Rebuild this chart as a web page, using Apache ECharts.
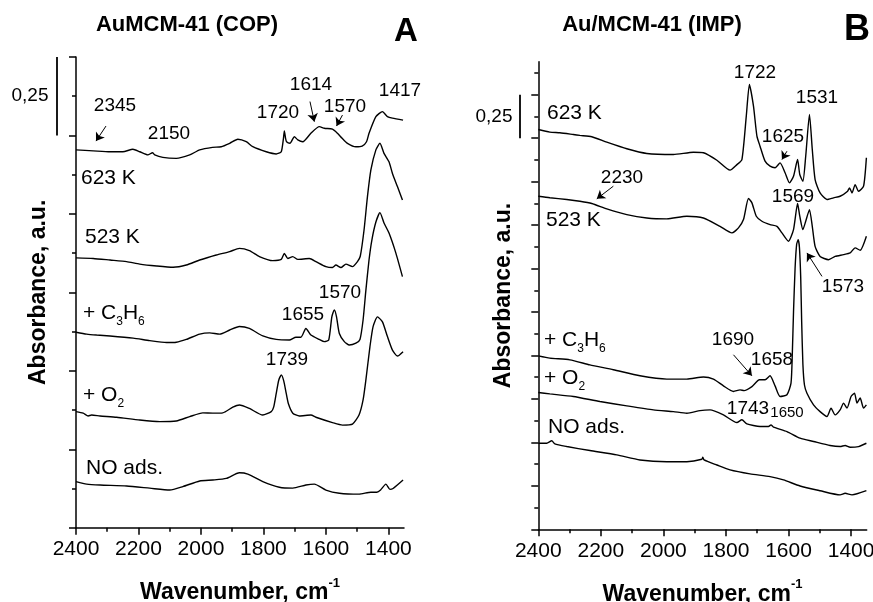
<!DOCTYPE html>
<html><head><meta charset="utf-8">
<script src="https://cdn.jsdelivr.net/npm/echarts@6/dist/echarts.min.js"></script>
<style>html,body{margin:0;padding:0;background:#fff}#c{width:873px;height:602px}</style>
</head><body><div id="c"></div>
<script>
const FONT = "'Liberation Sans', Arial, Helvetica, sans-serif";

// tick values
const xTicksMajor = [1400, 1600, 1800, 2000, 2200, 2400];
const xTicksMinor = [1500, 1700, 1900, 2100, 2300];
const yTicksMajorA = [0, 0.25, 0.5, 0.75, 1, 1.25, 1.5];
const yTicksMinorA = [0.125, 0.375, 0.625, 0.875, 1.125, 1.375];
const yTicksMajorB = [0, 0.25, 0.5, 0.75, 1, 1.25, 1.5, 1.75, 2, 2.25, 2.5];
const yTicksMinorB = [0.125, 0.375, 0.625, 0.875, 1.125, 1.375, 1.625, 1.875, 2.125, 2.375, 2.625];

// Panel A: AuMCM-41 (COP)  [wavenumber, absorbance]
const copS623 = [[2400,1.204],[2345,1.201],[2291,1.198],[2250,1.198],[2218,1.206],[2196,1.198],[2170,1.188],[2155,1.195],[2148,1.188],[2122,1.180],[2079,1.177],[2036,1.188],[2004,1.204],[1963,1.212],[1935,1.214],[1908,1.225],[1882,1.238],[1855,1.230],[1834,1.214],[1791,1.198],[1759,1.191],[1743,1.198],[1736,1.240],[1733,1.264],[1729,1.240],[1726,1.230],[1715,1.225],[1701,1.246],[1690,1.236],[1674,1.230],[1648,1.257],[1621,1.278],[1605,1.273],[1579,1.270],[1563,1.257],[1548,1.241],[1531,1.225],[1504,1.214],[1484,1.216],[1470,1.230],[1462,1.257],[1440,1.310],[1419,1.326],[1403,1.310],[1387,1.305],[1353,1.299]];
const copS523 = [[2400,0.860],[2345,0.858],[2291,0.853],[2238,0.848],[2196,0.840],[2142,0.834],[2089,0.830],[2047,0.837],[2004,0.853],[1951,0.869],[1908,0.880],[1877,0.890],[1845,0.883],[1813,0.864],[1770,0.851],[1743,0.855],[1733,0.874],[1722,0.858],[1706,0.864],[1690,0.855],[1653,0.858],[1632,0.848],[1600,0.832],[1579,0.829],[1568,0.837],[1552,0.829],[1536,0.840],[1515,0.832],[1499,0.848],[1490,0.865],[1478,0.948],[1467,1.055],[1456,1.140],[1440,1.204],[1427,1.225],[1414,1.193],[1398,1.166],[1387,1.129],[1371,1.087],[1355,1.044]];
const copC3H6 = [[2400,0.623],[2366,0.617],[2334,0.614],[2291,0.611],[2217,0.604],[2164,0.596],[2110,0.590],[2079,0.591],[2047,0.600],[2004,0.617],[1972,0.621],[1940,0.617],[1908,0.630],[1877,0.641],[1845,0.635],[1802,0.611],[1759,0.600],[1717,0.598],[1696,0.607],[1680,0.607],[1664,0.635],[1648,0.614],[1621,0.600],[1605,0.593],[1591,0.598],[1581,0.672],[1573,0.694],[1566,0.672],[1557,0.619],[1541,0.593],[1525,0.582],[1504,0.588],[1491,0.600],[1481,0.662],[1472,0.757],[1462,0.853],[1453,0.916],[1440,0.974],[1427,1.004],[1414,0.971],[1398,0.939],[1376,0.875],[1355,0.800]];
const copO2 = [[2400,0.370],[2377,0.365],[2361,0.356],[2350,0.359],[2323,0.356],[2270,0.352],[2196,0.343],[2132,0.338],[2079,0.340],[2036,0.354],[1994,0.366],[1962,0.365],[1930,0.366],[1898,0.384],[1877,0.391],[1845,0.380],[1802,0.359],[1775,0.370],[1767,0.385],[1759,0.428],[1751,0.470],[1743,0.487],[1735,0.468],[1727,0.428],[1720,0.395],[1706,0.365],[1685,0.356],[1648,0.359],[1632,0.352],[1579,0.335],[1547,0.327],[1515,0.330],[1494,0.359],[1481,0.407],[1472,0.471],[1459,0.577],[1449,0.641],[1435,0.672],[1419,0.656],[1403,0.609],[1387,0.566],[1371,0.547],[1353,0.561]];
const copNO = [[2400,0.147],[2366,0.139],[2323,0.136],[2238,0.133],[2164,0.126],[2100,0.120],[2058,0.131],[2004,0.149],[1962,0.152],[1919,0.157],[1877,0.175],[1850,0.171],[1802,0.147],[1749,0.129],[1706,0.126],[1664,0.136],[1637,0.139],[1600,0.120],[1557,0.110],[1494,0.107],[1456,0.113],[1437,0.113],[1425,0.120],[1408,0.139],[1395,0.122],[1385,0.125],[1353,0.152]];

// Panel B: Au/MCM-41 (IMP)
const impS623 = [[2400,2.300],[2363,2.285],[2331,2.281],[2288,2.271],[2267,2.266],[2229,2.258],[2181,2.227],[2117,2.189],[2053,2.162],[1968,2.156],[1904,2.169],[1872,2.166],[1829,2.123],[1787,2.066],[1765,2.098],[1749,2.127],[1735,2.377],[1725,2.559],[1712,2.434],[1701,2.262],[1691,2.204],[1675,2.118],[1659,2.089],[1643,2.080],[1627,2.108],[1611,2.051],[1597,1.993],[1584,2.031],[1571,2.127],[1564,2.041],[1554,2.002],[1545,2.146],[1533,2.387],[1524,2.185],[1515,2.012],[1499,1.935],[1477,1.897],[1456,1.907],[1435,1.916],[1411,1.945],[1405,1.964],[1397,1.935],[1387,1.983],[1376,1.945],[1360,1.974],[1351,2.137]];
const impS523 = [[2400,1.916],[2363,1.907],[2309,1.897],[2267,1.887],[2229,1.874],[2181,1.843],[2117,1.810],[2053,1.791],[1989,1.786],[1925,1.801],[1872,1.791],[1819,1.743],[1781,1.705],[1760,1.734],[1744,1.782],[1728,1.903],[1717,1.878],[1703,1.801],[1685,1.772],[1659,1.753],[1637,1.743],[1621,1.705],[1600,1.657],[1584,1.724],[1571,1.874],[1564,1.801],[1554,1.724],[1545,1.772],[1533,1.839],[1524,1.743],[1515,1.628],[1499,1.570],[1472,1.551],[1451,1.570],[1424,1.580],[1403,1.590],[1387,1.619],[1371,1.605],[1351,1.686]];
const impC3H6 = [[2400,0.998],[2363,0.985],[2299,0.975],[2235,0.946],[2160,0.918],[2075,0.883],[1989,0.864],[1925,0.864],[1872,0.876],[1840,0.864],[1808,0.825],[1776,0.793],[1755,0.802],[1742,0.798],[1717,0.821],[1693,0.860],[1675,0.860],[1659,0.883],[1643,0.825],[1627,0.764],[1605,0.774],[1592,0.841],[1588,1.000],[1584,1.250],[1579,1.500],[1574,1.640],[1569,1.666],[1565,1.620],[1561,1.450],[1558,1.200],[1554,0.950],[1549,0.830],[1541,0.783],[1520,0.716],[1499,0.677],[1477,0.649],[1464,0.697],[1451,0.658],[1435,0.687],[1424,0.726],[1413,0.697],[1400,0.764],[1389,0.783],[1381,0.726],[1371,0.755],[1360,0.697],[1351,0.716]];
const impO2 = [[2400,0.787],[2363,0.779],[2288,0.764],[2203,0.735],[2117,0.710],[2032,0.687],[1968,0.677],[1925,0.668],[1883,0.683],[1851,0.687],[1808,0.658],[1765,0.614],[1749,0.630],[1733,0.607],[1691,0.591],[1664,0.591],[1656,0.601],[1648,0.588],[1605,0.562],[1563,0.524],[1520,0.505],[1467,0.482],[1435,0.476],[1419,0.482],[1403,0.472],[1376,0.476],[1351,0.495]];
const impNO = [[2400,0.495],[2373,0.495],[2357,0.509],[2347,0.491],[2309,0.476],[2235,0.453],[2149,0.428],[2075,0.399],[1989,0.389],[1925,0.389],[1877,0.403],[1874,0.415],[1870,0.399],[1829,0.370],[1787,0.342],[1723,0.319],[1659,0.303],[1616,0.284],[1563,0.249],[1499,0.222],[1435,0.198],[1419,0.207],[1397,0.198],[1351,0.222]];

// arrows [from, to] in data coords
const arrowsA = [[[2304,1.280],[2336,1.232]], [[1651,1.358],[1637,1.294]], [[1547,1.315],[1566,1.280]]];
const arrowsB = [[[1605,2.175],[1621,2.127]], [[2160,1.974],[2213,1.901]], [[1493,1.455],[1541,1.590]], [[1776,1.004],[1717,0.883]]];

// text annotations (text, px position)
const peakLabels = [
  ['2345',115,106],['2150',169,134],['1720',278,113],['1614',311,85],['1570',345,107],['1417',400,91],
  ['1655',303,315],['1570',340,293],['1739',287,360],
  ['1722',755,73],['1531',817,98],['1625',783,137],['2230',622,178],['1569',793,197],['1573',843,287],
  ['1690',733,340],['1658',772,360],['1743',748,409]
];
const sampleLabels = [
  ['623 K',81,178],['523 K',85,237],['+ C{s|3}H{s|6}',83,313],['+ O{s|2}',83,395],['NO ads.',86,468],
  ['623 K',547,113],['523 K',546,220],['+ C{s|3}H{s|6}',544,340],['+ O{s|2}',544,378],['NO ads.',548,427]
];

const chart = echarts.init(document.getElementById('c'));
const BLACK = '#000';

function xAx(grid, major) {
  return {
    type: 'value', gridIndex: grid, min: 1350, max: 2400, inverse: true, position: 'bottom',
    axisLine: { show: major, onZero: false, lineStyle: { color: BLACK, width: 1.5 } },
    axisTick: { show: true, inside: false, length: major ? 7 : 4, customValues: major ? xTicksMajor : xTicksMinor, lineStyle: { color: BLACK, width: 1.5 } },
    axisLabel: { show: major, customValues: xTicksMajor, formatter: v => String(v), margin: 11, fontSize: 21, color: BLACK, fontFamily: FONT },
    splitLine: { show: false },
    name: major ? 'Wavenumber, cm{sup|-1}' : '',
    nameLocation: 'middle', nameGap: 49,
    nameTextStyle: { fontSize: 23, fontWeight: 'bold', color: BLACK, fontFamily: FONT,
      rich: { sup: { fontSize: 13, fontWeight: 'bold', fontFamily: FONT, color: BLACK, padding: [0, 0, 19, 0] } } }
  };
}
function yAx(grid, major, max, majors, minors, gap) {
  return {
    type: 'value', gridIndex: grid, min: 0, max: max, position: 'left',
    axisLine: { show: major, onZero: false, lineStyle: { color: BLACK, width: 1.5 } },
    axisTick: { show: true, inside: false, length: major ? 7 : 4, customValues: major ? majors : minors, lineStyle: { color: BLACK, width: 1.5 } },
    axisLabel: { show: false },
    splitLine: { show: false },
    name: major ? 'Absorbance, a.u.' : '',
    nameLocation: 'middle', nameGap: gap, nameRotate: 90,
    nameTextStyle: { fontSize: 23, fontWeight: 'bold', color: BLACK, fontFamily: FONT }
  };
}
function ser(name, data, xi, yi, arrows) {
  const s = {
    name: name, type: 'line', data: data, xAxisIndex: xi, yAxisIndex: yi,
    showSymbol: false, symbol: 'none', smooth: 0.2, silent: true,
    lineStyle: { color: BLACK, width: 1.4 }
  };
  if (arrows) {
    s.markLine = {
      silent: true, symbol: ['none', 'arrow'], symbolSize: 8, animation: false,
      lineStyle: { color: BLACK, width: 1, type: 'solid' }, label: { show: false },
      data: arrows.map(a => [{ coord: a[0] }, { coord: a[1] }])
    };
  }
  return s;
}

chart.setOption({
  animation: false,
  backgroundColor: '#fff',
  textStyle: { fontFamily: FONT },
  grid: [
    { left: 76, top: 57, width: 328, height: 470.7, containLabel: false, outerBoundsMode: 'none' },
    { left: 538.3, top: 61.7, width: 328.4, height: 467.6, containLabel: false, outerBoundsMode: 'none' }
  ],
  xAxis: [xAx(0, true), xAx(0, false), xAx(1, true), xAx(1, false)],
  yAxis: [
    yAx(0, true, 1.5, yTicksMajorA, yTicksMinorA, 26), yAx(0, false, 1.5, yTicksMajorA, yTicksMinorA, 26),
    yAx(1, true, 2.69, yTicksMajorB, yTicksMinorB, 23), yAx(1, false, 2.69, yTicksMajorB, yTicksMinorB, 23)
  ],
  series: [
    ser('COP 623 K', copS623, 0, 0, arrowsA),
    ser('COP 523 K', copS523, 0, 0),
    ser('COP + C3H6', copC3H6, 0, 0),
    ser('COP + O2', copO2, 0, 0),
    ser('COP NO ads.', copNO, 0, 0),
    ser('IMP 623 K', impS623, 2, 2, arrowsB),
    ser('IMP 523 K', impS523, 2, 2),
    ser('IMP + C3H6', impC3H6, 2, 2),
    ser('IMP + O2', impO2, 2, 2),
    ser('IMP NO ads.', impNO, 2, 2)
  ]
});

function txt(t, x, y, size, weight, align) {
  return { type: 'text', x: x, y: y, silent: true, style: {
    text: t, fill: BLACK, fontSize: size, fontWeight: weight || 'normal', fontFamily: FONT,
    align: align || 'center', verticalAlign: 'middle',
    rich: { s: { fontSize: 12, fontFamily: FONT, fill: BLACK, padding: [18, 0, 0, 0] } }
  } };
}
const g = [];
g.push(txt('AuMCM-41 (COP)', 187, 25, 22, 'bold'));
g.push(txt('Au/MCM-41 (IMP)', 652, 25, 22, 'bold'));
g.push(txt('A', 406, 32, 33, 'bold'));
g.push(txt('B', 857, 30, 36, 'bold'));
peakLabels.forEach(p => g.push(txt(p[0], p[1], p[2], 19)));
g.push(txt('1650', 787, 413, 15));
sampleLabels.forEach(p => g.push(txt(p[0], p[1], p[2], 21, 'normal', 'left')));
// scale bars (0.25 absorbance)
const yA1 = chart.convertToPixel({ yAxisIndex: 0 }, 1.25), yA2 = chart.convertToPixel({ yAxisIndex: 0 }, 1.5);
const yB1 = chart.convertToPixel({ yAxisIndex: 2 }, 2.25), yB2 = chart.convertToPixel({ yAxisIndex: 2 }, 2.5);
g.push({ type: 'line', silent: true, shape: { x1: 57, y1: yA1, x2: 57, y2: yA2 }, style: { stroke: BLACK, lineWidth: 1.8 } });
g.push({ type: 'line', silent: true, shape: { x1: 520, y1: yB1, x2: 520, y2: yB2 }, style: { stroke: BLACK, lineWidth: 1.8 } });
g.push(txt('0,25', 30, (yA1 + yA2) / 2, 19));
g.push(txt('0,25', 494, (yB1 + yB2) / 2, 19));
chart.setOption({ graphic: g });
</script>
</body></html>
